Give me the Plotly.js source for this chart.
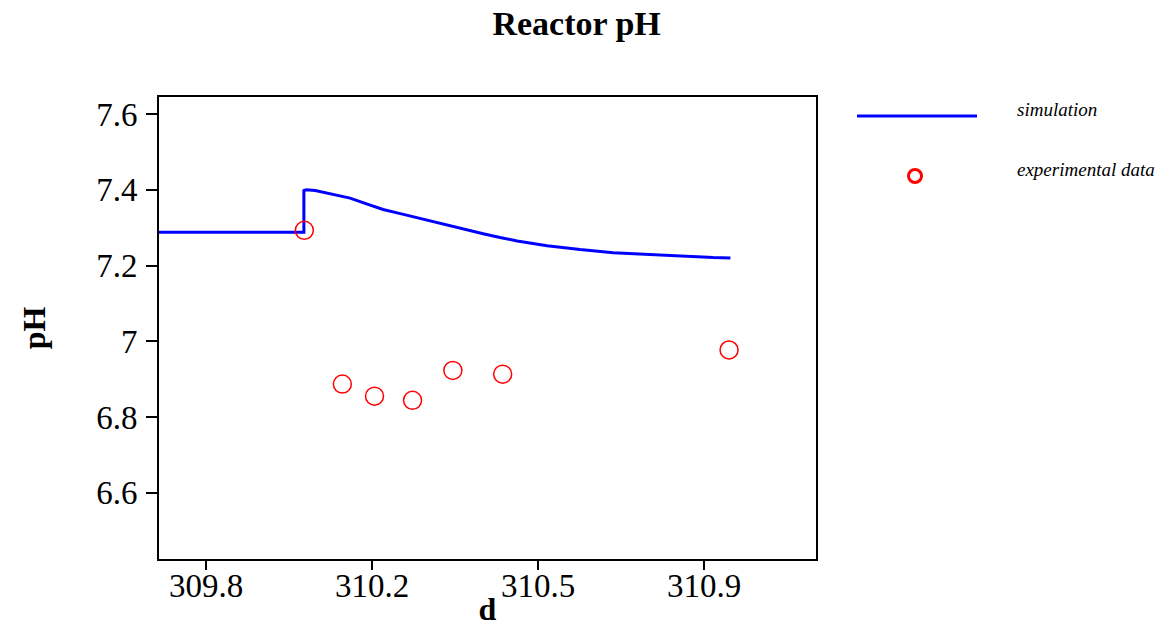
<!DOCTYPE html>
<html>
<head>
<meta charset="utf-8">
<script src="https://cdn.plot.ly/plotly-3.0.1.min.js"></script>
<style>html,body{margin:0;padding:0;background:#fff;}#chart{width:1172px;height:627px;}</style>
</head>
<body>
<div id="chart"></div>
<script>
// Simulation curve (time in days, pH)
const simX = [309.69, 310.016, 310.016, 310.021, 310.041, 310.081, 310.118, 310.156, 310.191, 310.229, 310.266, 310.301, 310.339, 310.377, 310.412, 310.449, 310.487, 310.553, 310.626, 310.699, 310.774, 310.847, 310.920, 310.958];
const simY = [7.288, 7.288, 7.398, 7.400, 7.398, 7.388, 7.378, 7.362, 7.348, 7.337, 7.326, 7.315, 7.304, 7.293, 7.284, 7.274, 7.265, 7.252, 7.242, 7.234, 7.229, 7.225, 7.221, 7.220];
// Experimental data
const expX = [310.017, 310.101, 310.172, 310.256, 310.345, 310.455, 310.955];
const expY = [7.293, 6.887, 6.855, 6.844, 6.923, 6.913, 6.977];
// Axis ticks
const xTickVals = [309.8, 310.1667, 310.5333, 310.9];
const xTickText = ["309.8", "310.2", "310.5", "310.9"];
const yTickVals = [6.6, 6.8, 7.0, 7.2, 7.4, 7.6];
const legendNames = ["simulation", "experimental data"];

const serif = "Liberation Serif, Times New Roman, serif";

const traces = [
  {x: simX, y: simY, mode: "lines", name: legendNames[0], showlegend: false,
   line: {color: "#0000ff", width: 3}},
  {x: expX, y: expY, mode: "markers", name: legendNames[1], showlegend: false,
   marker: {symbol: "circle-open", size: 18, color: "#ff0000", line: {width: 1.5, color: "#ff0000"}}}
];

const layout = {
  width: 1172, height: 627,
  margin: {l: 159, r: 356, t: 97, b: 68},
  paper_bgcolor: "#ffffff", plot_bgcolor: "#ffffff",
  title: {text: "<b>Reactor pH</b>", font: {family: serif, size: 34, color: "#000"},
          x: 0.492, xanchor: "center", xref: "container", y: 0.982, yanchor: "top", yref: "container"},
  xaxis: {
    range: [309.696, 311.147], tickvals: xTickVals, ticktext: xTickText,
    showgrid: false, zeroline: false, showline: true, mirror: true, linecolor: "#000", linewidth: 2,
    ticks: "outside", ticklen: 9, tickwidth: 2, tickcolor: "#000", ticklabelstandoff: -13,
    tickfont: {family: serif, size: 33, color: "#000"},
    title: {text: "<b>d</b>", font: {family: serif, size: 32, color: "#000"}, standoff: 0}
  },
  yaxis: {
    range: [6.425, 7.645], tickvals: yTickVals,
    showgrid: false, zeroline: false, showline: true, mirror: true, linecolor: "#000", linewidth: 2,
    ticks: "outside", ticklen: 11, tickwidth: 2, tickcolor: "#000", ticklabelstandoff: 2,
    tickfont: {family: serif, size: 33, color: "#000"},
    title: {text: "<b>pH</b>", font: {family: serif, size: 32, color: "#000"}, standoff: 41}
  },
  shapes: [
    {type: "line", xref: "paper", yref: "paper", x0: 1.0624, x1: 1.2451, y0: 0.9589, y1: 0.9589,
     line: {color: "#0000ff", width: 3}},
    {type: "circle", xref: "paper", yref: "paper", x0: 1.1507 - 0.0099, x1: 1.1507 + 0.0099, y0: 0.829 - 0.014, y1: 0.829 + 0.014,
     line: {color: "#ff0000", width: 3}}
  ],
  annotations: [
    {xref: "paper", yref: "paper", x: 1.303, y: 0.972, xanchor: "left", yanchor: "middle", showarrow: false,
     text: "<i>" + legendNames[0] + "</i>", font: {family: serif, size: 19, color: "#000"}},
    {xref: "paper", yref: "paper", x: 1.303, y: 0.842, xanchor: "left", yanchor: "middle", showarrow: false,
     text: "<i>" + legendNames[1] + "</i>", font: {family: serif, size: 19, color: "#000"}}
  ]
};

Plotly.newPlot("chart", traces, layout, {displayModeBar: false, staticPlot: true});
</script>
</body>
</html>
